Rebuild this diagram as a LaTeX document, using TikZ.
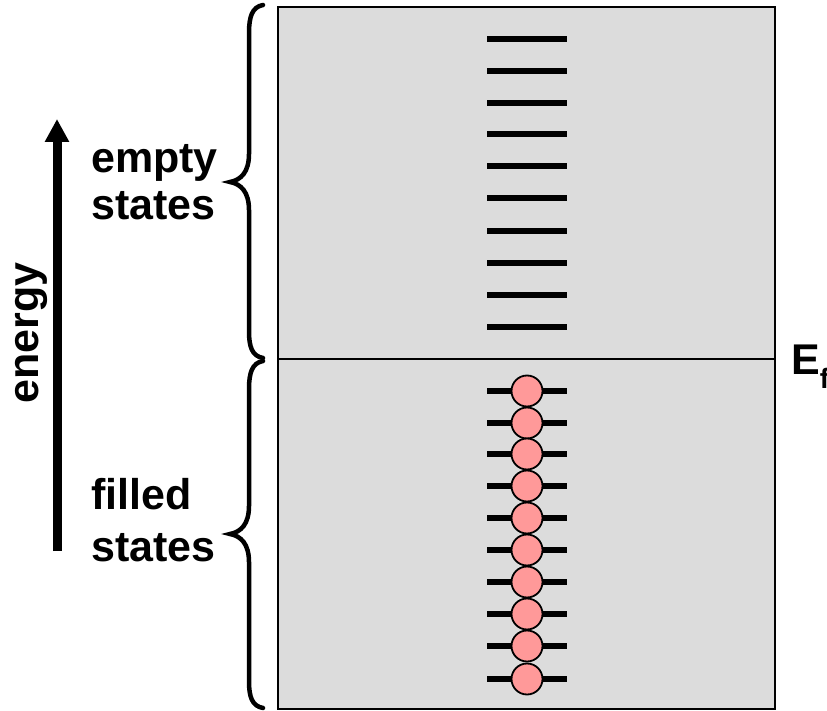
\documentclass[tikz,border=0pt]{standalone}
\usepackage{fontspec}
\setmainfont{Liberation Sans}
\usetikzlibrary{arrows.meta}
\definecolor{bandgray}{RGB}{220,220,220}
\definecolor{electron}{RGB}{255,153,153}
\tikzset{
  label/.style={inner sep=0pt, font=\bfseries\fontsize{43}{49}\selectfont},
  level/.style={line width=6pt},
  brace/.style={line width=4.5pt, line cap=round},
  electronball/.style={circle, draw=black, line width=1.8pt, fill=electron,
    minimum size=31pt, inner sep=0pt},
}
\begin{document}
\begin{tikzpicture}[x=1pt,y=-1pt]
\useasboundingbox (0,0) rectangle (827,711);

% band box with the Fermi level dividing it
\coordinate (boxNW) at (278,7);
\coordinate (boxSE) at (775,709);
\coordinate (fermiL) at (278,359);
\coordinate (fermiR) at (775,359);
\draw[line width=2pt, fill=bandgray] (boxNW) rectangle (boxSE);
\draw[line width=2pt] (fermiL) -- (fermiR);

% empty levels above the Fermi level
\foreach \y in {39,71,103,134,166,198,231,263,295,327}
  \draw[level] (487,\y) -- (567,\y);

% filled levels, each with an electron
\foreach \y [count=\i] in {391,423,454,486,518,550,582,614,646,679}{
  \draw[level] (487,\y) -- (567,\y);
  \node[electronball] (e\i) at (527,\y) {};
}

% braces
\draw[brace] (263,5) .. controls (252,7) and (249,17) .. (249,33)
  -- (249,154) .. controls (249,172) and (241,180) .. (230,182)
  .. controls (241,184) and (249,192) .. (249,210)
  -- (249,331) .. controls (249,347) and (252,356) .. (263,358);
\draw[brace] (263,361) .. controls (252,363) and (249,373) .. (249,389)
  -- (249,506) .. controls (249,524) and (241,532) .. (230,534)
  .. controls (241,536) and (249,544) .. (249,562)
  -- (249,681) .. controls (249,697) and (252,706) .. (263,708);

% energy axis
\coordinate (axisfoot) at (57,551);
\coordinate (axistip) at (57,119);
\draw[line width=9pt, -{Triangle[length=23pt,width=23pt]}] (axisfoot) -- (axistip);
\node[label, rotate=90, anchor=base west] (energy) at (38,404) {energy};

% labels
\node[label, anchor=base west] (empty1) at (91,173) {empty};
\node[label, anchor=base west] (empty2) at (91,220) {states};
\node[label, anchor=base west] (filled1) at (91,509) {filled};
\node[label, anchor=base west] (filled2) at (91,561) {states};
\node[label, anchor=base west] (ef) at (791,374)
  {E\raisebox{-14pt}{\fontsize{28}{28}\selectfont f}};
\end{tikzpicture}
\end{document}
